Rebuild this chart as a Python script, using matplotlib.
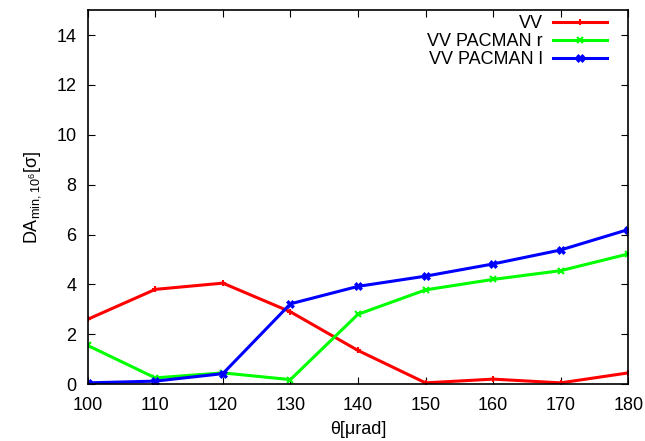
import numpy as np
import matplotlib.pyplot as plt

plt.rcParams['font.family'] = ['Liberation Sans', 'DejaVu Sans']

theta = [100, 110, 120, 130, 140, 150, 160, 170, 180]
da_vv = [2.6, 3.8, 4.05, 2.9, 1.35, 0.05, 0.2, 0.05, 0.45]
da_pacman_r = [1.55, 0.25, 0.45, 0.18, 2.8, 3.78, 4.2, 4.55, 5.22]
da_pacman_l = [0.05, 0.12, 0.42, 3.22, 3.92, 4.33, 4.82, 5.38, 6.2]

fig = plt.figure(figsize=(6.45, 4.41), dpi=100)
ax = fig.add_axes([0.136, 0.129, 0.838, 0.848])

ax.plot(theta, da_vv, color='#ff0000', lw=2.2, marker='+', ms=5, mew=1.5, label='VV')
ax.plot(theta, da_pacman_r, color='#00ff00', lw=2.2, marker='x', ms=5, mew=1.5, label='VV PACMAN r')
ax.plot(theta, da_pacman_l, color='#0000ff', lw=2.2, marker='X', ms=6, mew=0.5, label='VV PACMAN l')

ax.set_xlim(100, 180)
ax.set_ylim(0, 15)
ax.set_xticks(np.arange(100, 181, 10))
ax.set_yticks(np.arange(0, 15, 2))
ax.tick_params(direction='in', top=True, right=True, labelsize=13, length=5)
ax.tick_params(axis='x', pad=9)
ax.tick_params(axis='y', pad=8)
for s in ax.spines.values():
    s.set_linewidth(1.2)

ax.set_xlabel(r'θ[μrad]', fontsize=13, labelpad=5)
ax.set_ylabel(r'DA$_{\mathregular{min,10^6}}$[σ]', fontsize=13, labelpad=10)

ax.legend(loc='upper right', bbox_to_anchor=(0.975, 1.005), frameon=False,
          markerfirst=False, fontsize=13, handlelength=3.0, labelspacing=0.05,
          borderaxespad=0.0, handletextpad=0.6)

fig.savefig('out.png', dpi=100)
